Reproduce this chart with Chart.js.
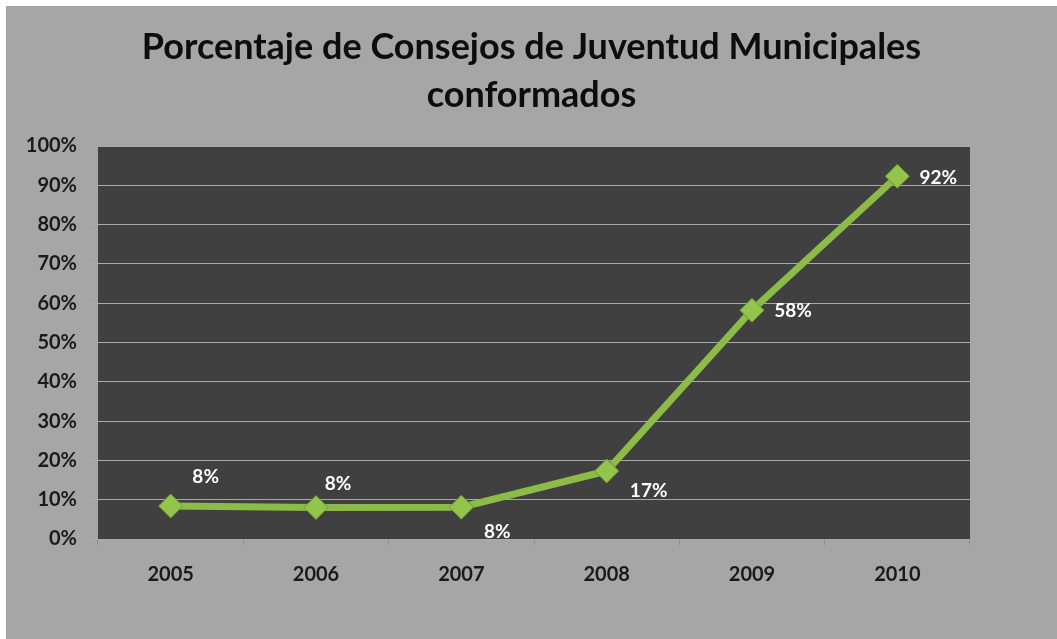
<!DOCTYPE html>
<html>
<head>
<meta charset="utf-8">
<script src="https://cdn.jsdelivr.net/npm/chart.js@4"></script>
<style>
  html, body { margin: 0; padding: 0; background: #ffffff; }
  #box { position: absolute; left: 6px; top: 6px; width: 1051px; height: 633px; background: #a6a6a6; }
</style>
</head>
<body>
<div id="box"><canvas id="lineChart" width="1051" height="633"></canvas></div>
<script>
// data
let years = ['2005', '2006', '2007', '2008', '2009', '2010'];
let percent = [8.4, 8.0, 8.1, 17.3, 58.2, 92.3];
let yTicks = [0, 10, 20, 30, 40, 50, 60, 70, 80, 90, 100];

// where each value label sits relative to its point (style only)
let labelShift = [[35, -29], [22, -24], [36, 25], [42, 20], [41, 1], [41, 2]];

const plotBackground = {
    id: 'plotBackground',
    beforeDraw(chart) {
        const a = chart.chartArea;
        const ctx = chart.ctx;
        ctx.save();
        ctx.fillStyle = '#404040';
        ctx.fillRect(a.left, a.top, a.right - a.left, a.bottom - a.top);
        ctx.restore();
    }
};

const valueLabels = {
    id: 'valueLabels',
    afterDatasetsDraw(chart) {
        const ctx = chart.ctx;
        const meta = chart.getDatasetMeta(0);
        ctx.save();
        ctx.fillStyle = '#ffffff';
        ctx.font = 'bold 19px Lato';
        ctx.textAlign = 'center';
        ctx.textBaseline = 'middle';
        meta.data.forEach((pt, i) => {
            ctx.fillText(Math.round(percent[i]) + '%', pt.x + labelShift[i][0], pt.y + labelShift[i][1]);
        });
        ctx.restore();
    }
};

const tickFont = { family: 'Lato', size: 20, weight: 'bold' };

const ctx = document.getElementById('lineChart').getContext('2d');
new Chart(ctx, {
    type: 'line',
    data: {
        labels: years,
        datasets: [{
            data: percent,
            borderColor: '#8dbb48',
            borderWidth: 7,
            fill: false,
            tension: 0,
            pointStyle: 'rectRot',
            pointRadius: 12,
            pointBackgroundColor: '#93c44c',
            pointBorderColor: '#6e9a2e',
            pointBorderWidth: 1
        }]
    },
    options: {
        responsive: false,
        animation: false,
        layout: { padding: 0 },
        plugins: {
            legend: { display: false },
            tooltip: { enabled: false },
            title: {
                display: true,
                text: ['Porcentaje de Consejos de Juventud Municipales', 'conformados'],
                color: '#0d0d0d',
                font: { family: 'Lato', size: 36, weight: 'bold', lineHeight: '48px' },
                padding: { top: 17, bottom: 27 }
            }
        },
        scales: {
            x: {
                offset: true,
                grid: {
                    offset: true,
                    drawOnChartArea: false,
                    color: '#8a8a8a',
                    tickLength: 6
                },
                border: { display: false },
                ticks: {
                    color: '#1a1a1a',
                    font: tickFont,
                    padding: 18
                },
                afterFit(scale) { scale.height = 100; }
            },
            y: {
                min: 0,
                max: 100,
                afterBuildTicks(scale) { scale.ticks = yTicks.map(v => ({ value: v })); },
                grid: {
                    color: '#a9a9a9',
                    lineWidth: 1,
                    tickLength: 8
                },
                border: { display: false },
                ticks: {
                    color: '#1a1a1a',
                    font: tickFont,
                    padding: 13,
                    callback: v => v + '%'
                },
                afterFit(scale) { scale.width = 92; }
            },
            // empty right-hand strip so the title centres on the whole box
            spacer: {
                position: 'right',
                min: 0,
                max: 100,
                grid: { display: false },
                border: { display: false },
                ticks: { display: false },
                afterFit(scale) { scale.width = 87; }
            }
        }
    },
    plugins: [plotBackground, valueLabels]
});
</script>
</body>
</html>
